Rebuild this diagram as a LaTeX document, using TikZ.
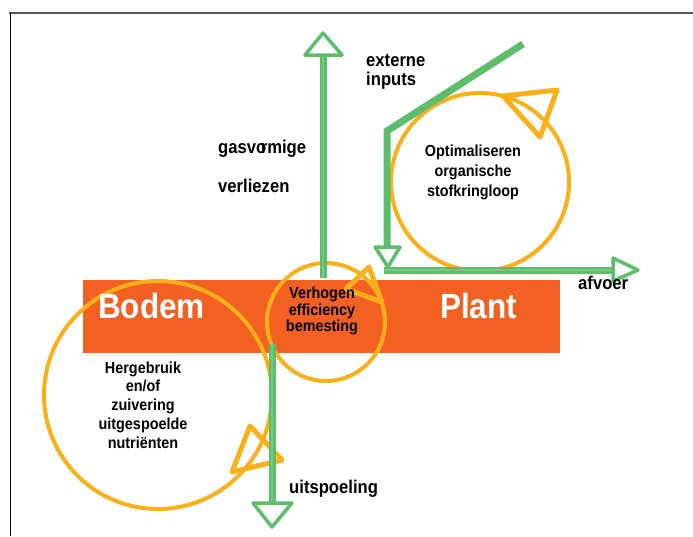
\documentclass[tikz,border=0pt]{standalone}
\usepackage{fontspec}
\setmainfont{Liberation Sans}[FakeStretch=0.9]
\definecolor{gr}{HTML}{5CBE6A}
\definecolor{grl}{HTML}{74C882}
\definecolor{orc}{HTML}{FBB01A}
\definecolor{band}{HTML}{F26122}
\definecolor{frame}{HTML}{555555}
\tikzset{
  flow/.style={draw=gr, line width=7pt},
  flowhi/.style={draw=grl, line width=1.6pt},
  gtri/.style={draw=gr, line width=3.5pt, line join=round, fill=white},
  ocirc/.style={circle, draw=orc, line width=4pt, inner sep=0pt},
  otri/.style={draw=orc, line width=5pt, line join=round},
  lbl/.style={font=\fontsize{18.5}{18.5}\selectfont\bfseries, inner sep=0pt},
  ctext/.style={font=\fontsize{16}{#1}\selectfont\bfseries, align=center, inner sep=0pt},
  big/.style={font=\fontsize{35}{35}\selectfont\bfseries, text=white, inner sep=0pt}
}
\begin{document}
\begin{tikzpicture}[x=1pt,y=-1pt]
\useasboundingbox (0,0) rectangle (693,536);
% frame
\draw[frame, line width=1.3pt] (9,13) -- (693,13);
\draw[black, line width=1pt] (10,13) -- (10,536);
% soil/plant band
\node[fill=band, minimum width=477pt, minimum height=73pt, inner sep=0pt, anchor=north west] (bandbox) at (83,280) {};
% circles
\node[ocirc, minimum size=228pt] (c1) at (158,395) {};
\node[ocirc, minimum size=118pt] (c2) at (326,322) {};
\node[ocirc, minimum size=178pt] (c3) at (480,182) {};
% orange arrowheads on circles
\draw[otri] (503,96) -- (557,90) -- (540,137) -- cycle;
\draw[otri] (369,267) -- (346,289) -- (382,302) -- cycle;
\draw[otri] (250,426) -- (282,460) -- (232,472) -- cycle;
% green flows
\coordinate (gasB) at (323,278);
\coordinate (gasT) at (323,55);
\draw[flow] (gasB) -- (gasT);
\draw[flowhi] (gasB) -- (gasT);
\draw[gtri] (305,55) -- (323,33) -- (342,55) -- cycle;

\coordinate (inS) at (523,44);
\coordinate (inK) at (387,131);
\coordinate (inE) at (387,247);
\draw[flow, line join=miter] (inS) -- (inK) -- (inE);
\draw[gtri] (375,247) -- (388,267) -- (400,247) -- cycle;

\coordinate (afS) at (384,270);
\coordinate (afE) at (613,270);
\draw[flow] (afS) -- (afE);
\draw[flowhi] (afS) -- (afE);
\draw[gtri] (613,258) -- (638,270) -- (613,281) -- cycle;

\coordinate (uiS) at (272,344);
\coordinate (uiE) at (272,503);
\draw[flow] (uiS) -- (uiE);
\draw[flowhi] (uiS) -- (uiE);
\draw[gtri] (253,503) -- (272,527) -- (292,503) -- cycle;
% texts
\node[big, anchor=base west] (bodem) at (98,318) {Bodem};
\node[big, anchor=base west] (plant) at (440,318) {Plant};
\node[lbl, anchor=base west] (gas) at (218,153) {gasvo\kern-0.3em rmige};
\node[lbl, anchor=base west] (verl) at (218,192) {verliezen};
\node[lbl, anchor=west, align=left, font=\fontsize{18.5}{18.5}\selectfont\bfseries] (ext) at (366,72) {externe\\inputs};
\node[lbl, anchor=base west] (afv) at (578,289) {afvoer};
\node[lbl, anchor=base west] (uit) at (289,493) {uitspoeling};
\node[ctext=20] (opt) at (473,172) {Optimaliseren\\organische\\stofkringloop};
\node[ctext=16.5] (verh) at (322,311) {Verhogen\\efficiency\\bemesting};
\node[ctext=18.75] (herg) at (143,405) {Hergebruik\\en/of\\zuivering\\uitgespoelde\\nutriënten};
\end{tikzpicture}
\end{document}
